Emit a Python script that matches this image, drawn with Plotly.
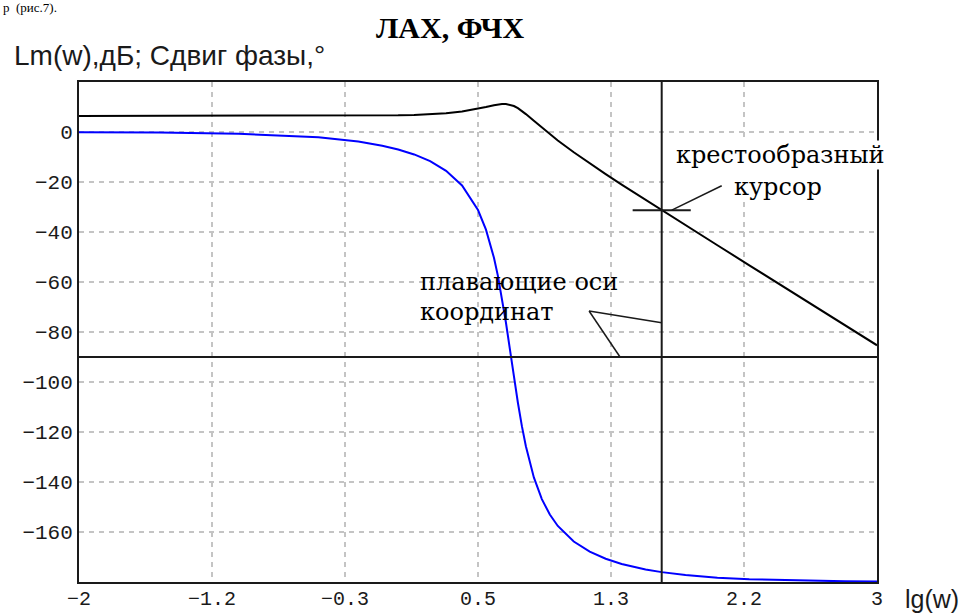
import plotly.graph_objects as go

# ---- data ----
lg_w = [-2, -1.5, -1, -0.5, -0.25, -0.1, 0, 0.1, 0.2, 0.3,
        0.4, 0.5, 0.55, 0.6, 0.625, 0.65, 0.675, 0.7, 0.725, 0.75,
        0.775, 0.8, 0.85, 0.9, 0.95, 1.0, 1.1, 1.2, 1.3, 1.4,
        1.55, 1.651, 1.8, 2.0, 2.2, 2.5, 2.8, 3.0]

lm_db = [6.40, 6.40, 6.40, 6.43, 6.49, 6.57, 6.68, 6.84, 7.10, 7.53,
         8.20, 9.27, 9.97, 10.70, 11.01, 11.21, 11.22, 10.96, 10.40, 9.53,
         8.42, 7.17, 4.46, 1.74, -0.89, -3.39, -8.12, -12.57, -16.85, -21.03,
         -27.17, -31.27, -37.27, -45.30, -53.31, -65.32, -77.32, -85.32]

phase_deg = [-0.07, -0.21, -0.68, -2.14, -3.84, -5.48, -6.99, -8.98, -11.68, -15.51,
             -21.36, -31.23, -39.08, -50.32, -57.66, -66.31, -76.19, -86.93, -97.87, -108.30,
             -117.65, -125.72, -138.18, -146.84, -153.01, -157.58, -163.81, -167.87, -170.70, -172.77,
             -174.97, -176.05, -177.21, -178.25, -178.89, -179.45, -179.72, -179.82]

x_tick_vals = [-2, -1.1667, -0.3333, 0.5, 1.3333, 2.1667, 3]
x_tick_text = ["−2", "−1.2", "−0.3", "0.5", "1.3", "2.2", "3"]
y_tick_vals = [-160, -140, -120, -100, -80, -60, -40, -20, 0]
y_tick_text = ["−160", "−140", "−120", "−100", "−80", "−60", "−40", "−20", "0"]

cursor_lg = 1.651
cursor_db = -31.27
float_axis_y = -90

INK = "#1a1a1a"
MONO = "Liberation Mono, DejaVu Sans Mono, monospace"
SANS = "Liberation Sans, Arial, sans-serif"
SERIF = "DejaVu Serif, serif"

fig = go.Figure()
fig.add_trace(go.Scatter(x=lg_w, y=lm_db, mode="lines",
                         line=dict(color="#000000", width=2), name="ЛАХ"))
fig.add_trace(go.Scatter(x=lg_w, y=phase_deg, mode="lines",
                         line=dict(color="#0000ff", width=2), name="ФЧХ"))

fig.update_layout(
    width=966, height=613,
    margin=dict(l=79, r=89, t=82, b=31),
    paper_bgcolor="white", plot_bgcolor="white",
    showlegend=False,
)
fig.update_xaxes(range=[-2, 3], tickvals=x_tick_vals, ticktext=x_tick_text,
                 tickfont=dict(family=MONO, size=20, color=INK),
                 ticks="", ticklabelstandoff=-3, automargin=False,
                 showgrid=True, gridcolor="#c4c4c4", gridwidth=1.5, griddash="5px,5px",
                 zeroline=False, showline=True, linecolor=INK, linewidth=2, mirror=True)
fig.update_yaxes(range=[-180, 20], tickvals=y_tick_vals, ticktext=y_tick_text,
                 tickfont=dict(family=MONO, size=21, color=INK),
                 ticks="", ticklabelstandoff=0, automargin=False,
                 showgrid=True, gridcolor="#c4c4c4", gridwidth=1.5, griddash="5px,5px",
                 zeroline=False, showline=True, linecolor=INK, linewidth=2, mirror=True)

shapes = [
    # white patch hiding grid behind cursor caption
    dict(type="rect", xref="x", yref="y", x0=1.67, x1=3, y0=-27, y1=-16,
         fillcolor="white", line=dict(width=0), layer="between"),
    # floating axes
    dict(type="line", xref="x", yref="paper", x0=cursor_lg, x1=cursor_lg, y0=0, y1=1,
         line=dict(color=INK, width=2)),
    dict(type="line", xref="paper", yref="y", x0=0, x1=1, y0=float_axis_y, y1=float_axis_y,
         line=dict(color=INK, width=2)),
    # cross cursor
    dict(type="line", xref="x", yref="y", x0=cursor_lg - 0.182, x1=cursor_lg + 0.182,
         y0=cursor_db, y1=cursor_db, line=dict(color=INK, width=2)),
    # pointer to cursor
    dict(type="line", xref="x", yref="y", x0=2.027, y0=-21.5, x1=1.714, y1=cursor_db,
         line=dict(color=INK, width=1.5)),
    # pointers to floating axes
    dict(type="line", xref="x", yref="y", x0=1.196, y0=-71.6, x1=cursor_lg, y1=-76.3,
         line=dict(color=INK, width=1.5)),
    dict(type="line", xref="x", yref="y", x0=1.196, y0=-71.6, x1=1.390, y1=float_axis_y,
         line=dict(color=INK, width=1.5)),
]
fig.update_layout(shapes=shapes)

annotations = [
    dict(text="<b>ЛАХ, ФЧХ</b>", xref="paper", yref="paper", x=0.465, y=1.108,
         xanchor="center", yanchor="middle", showarrow=False,
         font=dict(family="Liberation Serif, Times New Roman, serif", size=30, color="#000")),
    dict(text="Lm(w),дБ; Сдвиг фазы,°", xref="paper", yref="paper", x=-0.084, y=1.052,
         xanchor="left", yanchor="middle", showarrow=False,
         font=dict(family=SANS, size=28, color=INK)),
    dict(text="lg(w)", xref="paper", yref="paper", x=1.0685, y=-0.034,
         xanchor="center", yanchor="middle", showarrow=False, borderpad=0,
         font=dict(family=SANS, size=25, color=INK)),
    dict(text="р  (рис.7).", xref="paper", yref="paper", x=-0.097, y=1.150,
         xanchor="left", yanchor="middle", showarrow=False, borderpad=0,
         font=dict(family="Liberation Serif, Times New Roman, serif", size=13, color="#000")),
    dict(text="крестообразный", xref="x", yref="y", x=2.398, y=-9.2,
         xanchor="center", yanchor="middle", showarrow=False, bgcolor="white", borderpad=0,
         font=dict(family=SERIF, size=24, color="#000")),
    dict(text="курсор", xref="x", yref="y", x=2.380, y=-21.8,
         xanchor="center", yanchor="middle", showarrow=False,
         font=dict(family=SERIF, size=24, color="#000")),
    dict(text="плавающие оси", xref="x", yref="y", x=0.124, y=-60,
         xanchor="left", yanchor="middle", showarrow=False,
         font=dict(family=SERIF, size=24, color="#000")),
    dict(text="координат", xref="x", yref="y", x=0.124, y=-72,
         xanchor="left", yanchor="middle", showarrow=False,
         font=dict(family=SERIF, size=24, color="#000")),
]
fig.update_layout(annotations=annotations)

fig.write_html("out.html", config={"displayModeBar": False},
               post_script="document.body.style.margin='0px';document.body.style.overflow='hidden';")
